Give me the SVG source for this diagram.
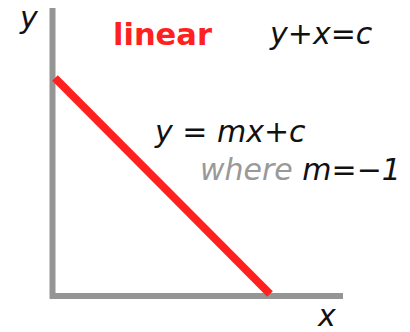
<svg xmlns="http://www.w3.org/2000/svg" width="410" height="332" viewBox="0 0 410 332">
<style>
.ax{stroke:#959595;stroke-width:6;fill:none}
.ln{stroke:#ff2020;stroke-width:8;fill:none}
.it{font-family:"DejaVu Sans",sans-serif;font-style:italic;font-size:30px;fill:#111}
.ttl{font-family:"DejaVu Sans",sans-serif;font-weight:bold;font-size:30.5px;fill:#ff2020}
.gr{fill:#999}
</style>
<rect width="410" height="332" fill="#fff"/>
<g id="axes">
<path class="ax" d="M52.5 8 V296 H343"/>
</g>
<g id="line">
<line class="ln" x1="55" y1="78" x2="270" y2="294"/>
</g>
<g id="labels">
<text class="it" x="20" y="28">y</text>
<text class="ttl" x="113" y="45">linear</text>
<text class="it" x="270" y="44">y+x=c</text>
<text class="it" x="155" y="142">y = mx+c</text>
<text class="it" x="200" y="180"><tspan class="gr">where</tspan> m=−1</text>
<text class="it" x="318" y="326">x</text>
</g>
</svg>
